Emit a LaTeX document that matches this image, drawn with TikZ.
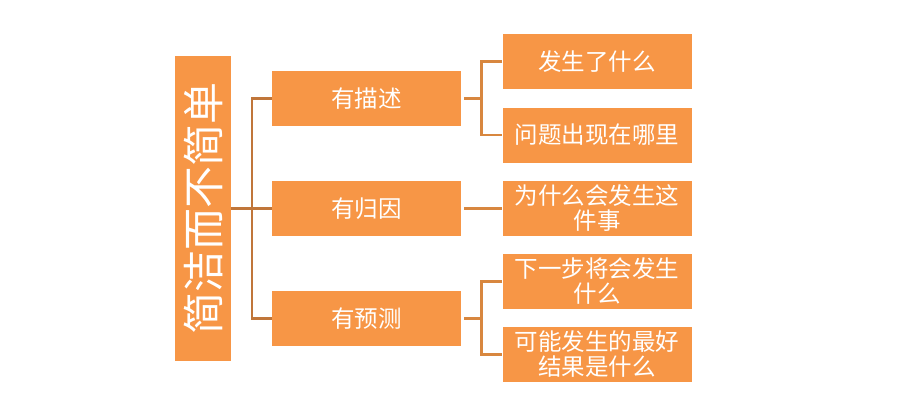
\documentclass[tikz,border=0pt]{standalone}
\usepackage{fontspec}
\setmainfont{Noto Sans CJK SC}
\definecolor{boxorange}{HTML}{F79646}
\definecolor{lineL}{HTML}{C0763A}
\definecolor{lineR}{HTML}{D8873F}
\tikzset{
  box/.style={fill=boxorange, draw=none, inner sep=0pt, text=white, align=center,
    font=\fontsize{23.5}{25}\selectfont, minimum width=189pt, minimum height=55pt},
  lbox/.style={fill=boxorange, draw=none, inner sep=0pt, text=white,
    font=\fontsize{42}{42}\selectfont, rotate=90, minimum width=305pt, minimum height=56pt},
  connL/.style={draw=lineL, line width=2.6pt},
  connR/.style={draw=lineR, line width=2.6pt}
}
\begin{document}
\begin{tikzpicture}[x=1pt,y=-1pt]
\useasboundingbox (0,0) rectangle (910,404);
\node[lbox] (L) at (203,208.5) {简洁而不简单};
\node[box] (M1) at (366.5,98.5) {有描述};
\node[box] (M2) at (366.5,208.5) {有归因};
\node[box] (M3) at (366.5,318.5) {有预测};
\node[box] (R1) at (597,61.5) {发生了什么};
\node[box] (R2) at (597,135) {问题出现在哪里};
\node[box] (R3) at (597,208.5) {为什么会发生这\\件事};
\node[box] (R4) at (597,281.5) {下一步将会发生\\什么};
\node[box] (R5) at (597,354.5) {可能发生的最好\\结果是什么};
% left bracket
\draw[connL] (L.south) -- (M2.west);
\draw[connL] (M1.west) -- ++(-20,0) |- (M3.west);
% right connectors
\draw[connR] ([xshift=3pt]M1.east) -- ++(18,0);
\draw[connR] (R1.west) -- ++(-21,0) |- (R2.west);
\draw[connR] ([xshift=3pt]M2.east) -- (R3.west);
\draw[connR] ([xshift=3pt]M3.east) -- ++(18,0);
\draw[connR] (R4.west) -- ++(-21,0) |- (R5.west);
\end{tikzpicture}
\end{document}
